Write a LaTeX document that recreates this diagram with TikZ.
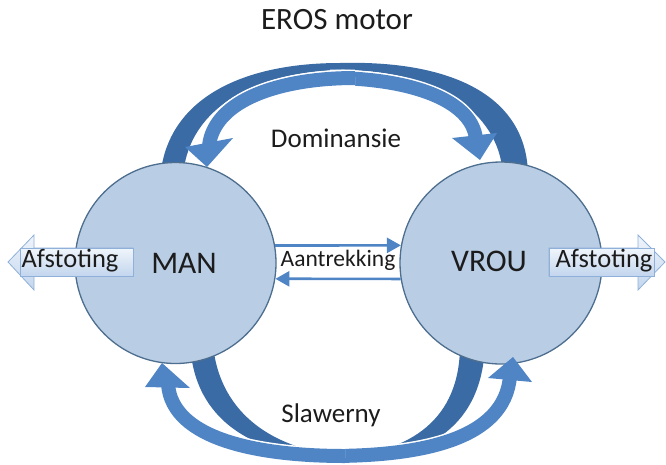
\documentclass[tikz,border=0pt]{standalone}
\usepackage{fontspec}
\setmainfont{Carlito}
\usetikzlibrary{arrows.meta}
\definecolor{darkband}{HTML}{3B6BA5}
\definecolor{lightband}{HTML}{4F85C5}
\definecolor{circfill}{HTML}{B9CDE5}
\definecolor{circline}{HTML}{4D6E8E}
\definecolor{boxtop}{HTML}{F0F5FB}
\definecolor{boxbot}{HTML}{C3D6EE}
\definecolor{boxline}{HTML}{8FB0D8}
\definecolor{textcol}{HTML}{1C1C1C}
\begin{document}
\begin{tikzpicture}[x=1pt,y=-1pt,
  darkpart/.style={fill=darkband},
  halo/.style={draw=white, line width=17pt},
  bandline/.style={draw=lightband, line width=14pt},
  headtri/.style={fill=lightband},
  circ/.style={circle, fill=circfill, draw=circline, line width=1.3pt, minimum size=201pt, inner sep=0pt},
  lbl/.style={text=textcol, inner sep=0pt, anchor=base},
  attract/.style={draw=lightband, line width=2.7pt, -{Triangle[length=14pt,width=15pt]}},
  repelshape/.style={top color=boxtop, bottom color=boxbot, draw=boxline, line width=0.8pt},
  repelbox/.style={top color=boxtop, bottom color=boxbot, draw=boxline, line width=0.8pt, inner sep=0pt, minimum height=28pt}
]
\useasboundingbox (0,0) rectangle (666,464);

% ---- dark back parts of the curved arrows (under circles)
\fill[darkpart] (340,63) .. controls (240,63) and (165,100) .. (160,180) -- (183,180) .. controls (185,112) and (250,71) .. (345,70) -- cycle;
\fill[darkpart] (340,63) .. controls (450,60) and (530,95) .. (528,180) -- (503,180) .. controls (503,115) and (440,70) .. (340,70) -- cycle;
\fill[darkpart] (190,345) .. controls (195,420) and (250,455) .. (345,462) -- (345,456) .. controls (275,450) and (220,415) .. (213,345) -- cycle;
\fill[darkpart] (485,345) .. controls (482,425) and (430,460) .. (340,463) -- (340,457) .. controls (410,452) and (460,420) .. (460,345) -- cycle;

% ---- circles
\node[circ] (man) at (175.5,263) {};
\node[circ, minimum size=202pt] (vrou) at (501,263) {};

% ---- light front parts with heads
\coordinate (tlS) at (355,78);  \coordinate (tlE) at (209,146);
\coordinate (trS) at (330,78);  \coordinate (trE) at (476,139);
\coordinate (blS) at (345,456); \coordinate (blE) at (168,384);
\coordinate (brS) at (330,456); \coordinate (brE) at (510,376);

\draw[halo] (trS) .. controls (410,78) and (472,100) .. (trE);
\draw[bandline] (trS) .. controls (410,78) and (472,100) .. (trE);
\fill[headtri] (452,138) -- (480,160) -- (497,133) -- cycle;

\draw[halo] (tlS) .. controls (280,78) and (214,100) .. (tlE);
\draw[bandline] (tlS) .. controls (280,78) and (214,100) .. (tlE);
\fill[headtri] (185,147) -- (207,167) -- (233,138) -- cycle;

\draw[halo] (brS) .. controls (420,456) and (505,440) .. (brE);
\draw[bandline] (brS) .. controls (420,456) and (505,440) .. (brE);
\fill[headtri] (488,378) -- (513,357) -- (532,382) -- cycle;

\draw[halo] (blS) .. controls (260,456) and (172,440) .. (blE);
\draw[bandline] (blS) .. controls (260,456) and (172,440) .. (blE);
\fill[headtri] (145,387) -- (162,363) -- (190,388) -- cycle;

% ---- attraction arrows
\draw[attract] (man.10) -- (vrou.170);
\draw[attract] (vrou.189) -- (man.-9);

% ---- repulsion arrows
\path[repelshape] (133,248) -- (34,248) -- (34,235) -- (8,262) -- (34,290) -- (34,276) -- (133,276) -- cycle;
\node[repelbox, minimum width=113pt] (afsl) at (76.5,262) {};
\path[repelshape] (549,248) -- (638,248) -- (638,235) -- (665,262) -- (638,290) -- (638,276) -- (549,276) -- cycle;
\node[repelbox, minimum width=105pt] (afsr) at (601.5,262) {};

% ---- texts
\node[lbl, font=\fontsize{31}{36}\selectfont] (title) at (337,29) {EROS motor};
\node[lbl, font=\fontsize{27}{32}\selectfont] (dom) at (336,147) {Dominansie};
\node[lbl, font=\fontsize{27}{32}\selectfont] (sla) at (331,422) {Slawerny};
\node[lbl, font=\fontsize{31.5}{36}\selectfont] (mant) at (184,273) {MAN};
\node[lbl, font=\fontsize{31.5}{36}\selectfont] (vrout) at (489,271) {VROU};
\node[lbl, font=\fontsize{23.5}{28}\selectfont] (aan) at (338,266) {Aantrekking};
\node[lbl, font=\fontsize{26.5}{30}\selectfont] (afsltext) at (70,267) {Afstoting};
\node[lbl, font=\fontsize{26.5}{30}\selectfont] (afsrtext) at (604,267) {Afstoting};
\end{tikzpicture}
\end{document}
